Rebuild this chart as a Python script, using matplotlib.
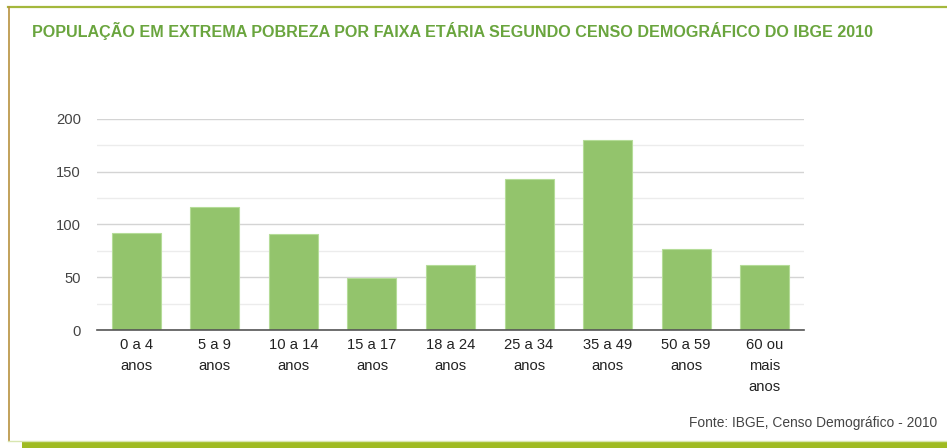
import matplotlib.pyplot as plt
from matplotlib.lines import Line2D
from matplotlib.patches import Rectangle

plt.rcParams["font.family"] = ["Liberation Sans", "DejaVu Sans"]

categories = ["0 a 4\nanos", "5 a 9\nanos", "10 a 14\nanos", "15 a 17\nanos",
              "18 a 24\nanos", "25 a 34\nanos", "35 a 49\nanos", "50 a 59\nanos",
              "60 ou\nmais\nanos"]
values = [92, 117, 91, 49, 62, 143, 180, 77, 62]
yticks = [0, 50, 100, 150, 200]

W, H = 947, 448
fig = plt.figure(figsize=(W / 100, H / 100), dpi=100, facecolor="white")


def fx(px):
    return px / W


def fy(py):
    return 1 - py / H


# frame: olive top line, golden left line, pale bottom line, green band
fig.add_artist(Line2D([fx(8), 1], [fy(7.5), fy(7.5)], color="#a4b83c", lw=1.6))
fig.add_artist(Line2D([fx(8.5), fx(8.5)], [fy(7), fy(441)], color="#b8913e", lw=1.2))
fig.add_artist(Line2D([fx(8), 1], [fy(441), fy(441)], color="#d8e6b0", lw=1.0))
fig.patches.append(Rectangle((fx(22), 0), 1 - fx(22), 6.5 / H,
                             transform=fig.transFigure, color="#9fbb22", lw=0))

fig.text(fx(32), fy(31),
         "POPULAÇÃO EM EXTREMA POBREZA POR FAIXA ETÁRIA SEGUNDO CENSO DEMOGRÁFICO DO IBGE 2010",
         color="#6aa53e", fontsize=11.6, fontweight="bold", va="center", ha="left")

ax = fig.add_axes([fx(97), fy(330), 707 / W, 211 / H])
x = range(len(values))
ax.bar(x, values, width=0.625, color="#93c46c", edgecolor="#b5dc98", lw=0.8, zorder=3)
ax.set_xlim(-0.5, len(values) - 0.5)
ax.set_ylim(0, 200)
ax.set_yticks(yticks)
ax.set_yticks([25, 75, 125, 175], minor=True)
ax.set_xticks(list(x))
ax.set_xticklabels(categories, fontsize=10.6, color="#222222", linespacing=1.6)
ax.tick_params(axis="y", labelsize=10.6, labelcolor="#444444", length=0, pad=11.5, which="both")
ax.tick_params(axis="x", length=0, pad=6)
ax.grid(axis="y", which="major", color="#d4d4d4", lw=1, zorder=0)
ax.grid(axis="y", which="minor", color="#ececec", lw=1, zorder=0)
for s in ["top", "right", "left"]:
    ax.spines[s].set_visible(False)
ax.spines["bottom"].set_color("#555555")
ax.spines["bottom"].set_linewidth(1.2)
ax.spines["bottom"].set_zorder(4)

fig.text(fx(937), fy(423), "Fonte: IBGE, Censo Demográfico - 2010",
         color="#444444", fontsize=9.9, ha="right", va="center")

fig.savefig("out.png", dpi=100)
